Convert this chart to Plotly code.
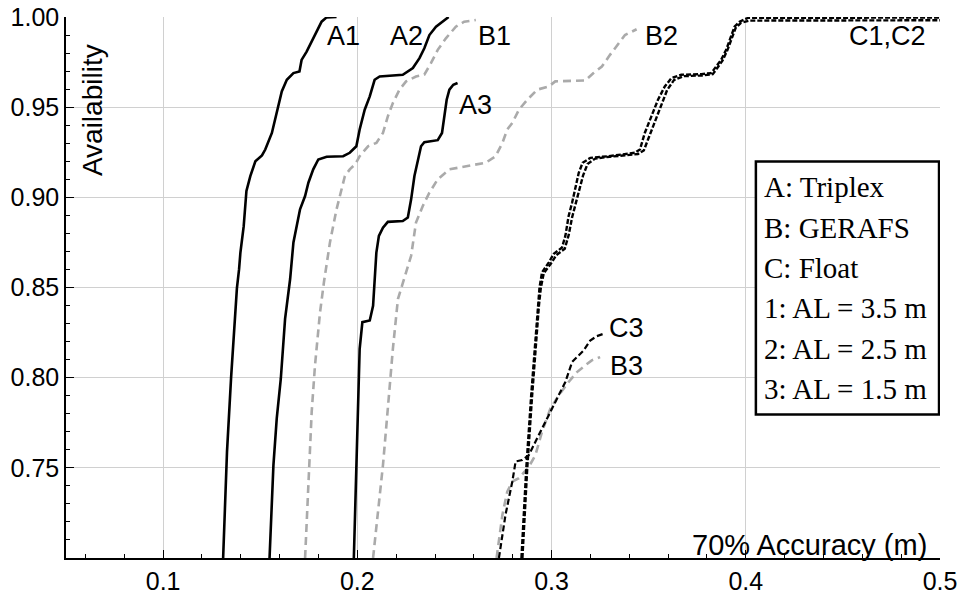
import plotly.graph_objects as go

# ---------------- data ----------------
A1_x = [0.1309, 0.1329, 0.1350, 0.1364, 0.1380, 0.1391, 0.1398, 0.1415, 0.1429, 0.1449, 0.1475,
        0.1509, 0.1526, 0.1560, 0.1577, 0.1594, 0.1611, 0.1637, 0.1671, 0.1702, 0.1713, 0.1739,
        0.1765, 0.1790, 0.1816, 0.1842, 0.1893]
A1_y = [0.700, 0.759, 0.800, 0.8215, 0.8496, 0.860, 0.8694, 0.884, 0.9035, 0.9118, 0.920,
        0.9232, 0.9265, 0.9357, 0.944, 0.9504, 0.9587, 0.9652, 0.9689, 0.9698, 0.9762, 0.9808,
        0.9864, 0.9919, 0.9974, 0.9998, 1.000]

A2_x = [0.1548, 0.1568, 0.1585, 0.1606, 0.1628, 0.1654, 0.1671, 0.1705, 0.1731, 0.1748, 0.1773,
        0.1799, 0.1842, 0.1927, 0.1961, 0.1995, 0.2012, 0.2038, 0.2064, 0.2089, 0.2115, 0.2234,
        0.2286, 0.2320, 0.2345, 0.2371, 0.2405, 0.2439, 0.2470]
A2_y = [0.700, 0.7515, 0.7773, 0.7994, 0.8326, 0.8547, 0.875, 0.8934, 0.9007, 0.9081, 0.9155,
        0.921, 0.9225, 0.9228, 0.9247, 0.9283, 0.9376, 0.9486, 0.956, 0.9652, 0.967, 0.968,
        0.9717, 0.9772, 0.9827, 0.990, 0.9946, 0.9974, 1.000]

A3_x = [0.1982, 0.1995, 0.2004, 0.2012, 0.2026, 0.2064, 0.2081, 0.2098, 0.2111, 0.2132, 0.2157,
        0.2234, 0.2260, 0.2277, 0.2294, 0.2311, 0.2328, 0.2345, 0.2414, 0.2436, 0.2448, 0.2460,
        0.2474, 0.2494, 0.2516]
A3_y = [0.700, 0.7515, 0.7976, 0.816, 0.8308, 0.8317, 0.8399, 0.8694, 0.8786, 0.8832, 0.8864,
        0.8869, 0.8888, 0.8989, 0.9118, 0.921, 0.9283, 0.9306, 0.9317, 0.9357, 0.9449, 0.9541,
        0.9597, 0.9624, 0.9634]

B1_x = [0.1731, 0.1748, 0.1765, 0.1782, 0.1808, 0.1828, 0.1859, 0.1893, 0.1918, 0.1936, 0.1961,
        0.1990, 0.2012, 0.2055, 0.2098, 0.2132, 0.2157, 0.2183, 0.2217, 0.2251, 0.2302, 0.2345,
        0.2379, 0.2414, 0.2456, 0.2507, 0.2550, 0.2610]
B1_y = [0.700, 0.7442, 0.781, 0.8068, 0.8363, 0.8529, 0.875, 0.8934, 0.9044, 0.9118, 0.9155,
        0.9185, 0.9228, 0.9283, 0.9302, 0.9357, 0.9449, 0.9523, 0.9597, 0.9643, 0.967, 0.968,
        0.9744, 0.9818, 0.9882, 0.9946, 0.9974, 0.9983]

B2_x = [0.2081, 0.2106, 0.2132, 0.2157, 0.2183, 0.2209, 0.2277, 0.2302, 0.2337, 0.2371, 0.2414,
        0.2474, 0.2559, 0.2661, 0.2712, 0.2747, 0.2772, 0.2798, 0.2832, 0.2875, 0.2926, 0.2986,
        0.3019, 0.3173, 0.3216, 0.3259, 0.3301, 0.3344, 0.3378, 0.3438]
B2_y = [0.700, 0.7258, 0.7515, 0.7829, 0.816, 0.8436, 0.8676, 0.886, 0.8952, 0.9026, 0.910,
        0.9155, 0.9173, 0.9192, 0.9228, 0.9302, 0.9376, 0.9413, 0.9486, 0.9541, 0.9597, 0.9615,
        0.9643, 0.9648, 0.9689, 0.9725, 0.979, 0.9855, 0.990, 0.9932]

B3_x = [0.2717, 0.2747, 0.2772, 0.2798, 0.2832, 0.2883, 0.2917, 0.2951, 0.2994, 0.3037, 0.3088,
        0.3131, 0.3173, 0.3207, 0.3250]
B3_y = [0.700, 0.724, 0.7368, 0.7424, 0.7442, 0.7506, 0.7571, 0.7700, 0.7829, 0.7902, 0.7976,
        0.8031, 0.8068, 0.8096, 0.8114]

C1_x = [0.2845, 0.2870, 0.2895, 0.2915, 0.2930, 0.2938, 0.2951, 0.2986, 0.3010, 0.3054, 0.3071,
        0.3088, 0.3106, 0.3122, 0.3140, 0.3160, 0.3200, 0.3293, 0.3361, 0.3429, 0.3455, 0.3480,
        0.3514, 0.3548, 0.3583, 0.3617, 0.3668, 0.3771, 0.3822, 0.3847, 0.3873, 0.3899, 0.3925,
        0.3942, 0.3968, 0.4011, 0.5000]
C1_y = [0.700, 0.750, 0.790, 0.820, 0.840, 0.850, 0.8584, 0.8639, 0.8685, 0.8722, 0.8786,
        0.8897, 0.8971, 0.9044, 0.9136, 0.9192, 0.9219, 0.9228, 0.9238, 0.9247, 0.9265, 0.9357,
        0.9449, 0.9541, 0.9615, 0.9661, 0.968, 0.9683, 0.9689, 0.9725, 0.9762, 0.9818, 0.9891,
        0.9946, 0.9974, 0.9995, 0.9997]

C2_x = [0.2850, 0.2875, 0.2900, 0.2920, 0.2935, 0.2945, 0.2960, 0.2995, 0.3025, 0.3068, 0.3088,
        0.3106, 0.3125, 0.3142, 0.3162, 0.3185, 0.3225, 0.3300, 0.3370, 0.3445, 0.3475, 0.3500,
        0.3530, 0.3562, 0.3595, 0.3630, 0.3680, 0.3775, 0.3830, 0.3855, 0.3880, 0.3905, 0.3930,
        0.3948, 0.3975, 0.4020, 0.5000]
C2_y = [0.700, 0.750, 0.790, 0.820, 0.840, 0.850, 0.8580, 0.8630, 0.8680, 0.8715, 0.8790,
        0.8890, 0.8965, 0.9040, 0.9120, 0.9185, 0.9215, 0.9225, 0.9232, 0.9240, 0.9260, 0.9330,
        0.9420, 0.9510, 0.9595, 0.9650, 0.9672, 0.9676, 0.9683, 0.9720, 0.9758, 0.9815, 0.9885,
        0.9940, 0.9968, 0.9980, 0.9982]

C3_x = [0.2729, 0.2763, 0.2798, 0.2815, 0.2849, 0.2883, 0.2917, 0.2951, 0.2994, 0.3028, 0.3071,
        0.3106, 0.3131, 0.3165, 0.3199, 0.3233, 0.3267]
C3_y = [0.700, 0.724, 0.7424, 0.7535, 0.7543, 0.7571, 0.7645, 0.7718, 0.781, 0.7884, 0.7976,
        0.8087, 0.8114, 0.8151, 0.8206, 0.823, 0.8243]

curve_labels = ["A1", "A2", "B1", "A3", "B2", "C1,C2", "C3", "B3"]
label_x = [0.1931, 0.2255, 0.2704, 0.2606, 0.3566, 0.4731, 0.3387, 0.3387]
label_y = [0.9893, 0.9893, 0.9893, 0.9514, 0.9893, 0.9893, 0.8276, 0.8063]

legend_lines = ["A: Triplex", "B: GERAFS", "C: Float",
                "1: AL = 3.5 m", "2: AL = 2.5 m", "3: AL = 1.5 m"]

x_ticks = [0.1, 0.2, 0.3, 0.4, 0.5]
y_ticks = [0.75, 0.80, 0.85, 0.90, 0.95, 1.00]

# ---------------- figure ----------------
fig = go.Figure()

solid = dict(color="black", width=2.6)
gray = dict(color="#aaaaaa", width=2.6, dash="8px,5px")
cdash = dict(color="black", width=2.4, dash="5px,2px")
c3dash = dict(color="black", width=2.2, dash="6px,3px")

series = [
    (A1_x, A1_y, solid), (A2_x, A2_y, solid), (A3_x, A3_y, solid),
    (B1_x, B1_y, gray), (B2_x, B2_y, gray), (B3_x, B3_y, gray),
    (C1_x, C1_y, cdash), (C2_x, C2_y, cdash), (C3_x, C3_y, c3dash),
]
for xs, ys, ln in series:
    fig.add_trace(go.Scatter(x=xs, y=ys, mode="lines", line=ln, cliponaxis=False,
                             showlegend=False, hoverinfo="skip"))

sans = "Liberation Sans, Arial, sans-serif"
serif = "Liberation Serif, Times New Roman, serif"

for t, lx, ly in zip(curve_labels, label_x, label_y):
    fig.add_annotation(x=lx, y=ly, text=t, showarrow=False,
                       font=dict(family=sans, size=27, color="black"))

# legend box
fig.add_shape(type="rect", xref="x", yref="y", x0=0.4052, x1=0.4995, y0=0.7796, y1=0.9199,
              line=dict(color="black", width=2.5), fillcolor="white", layer="above")
leg_y0 = 0.9055
leg_step = 0.02235
for i, t in enumerate(legend_lines):
    fig.add_annotation(x=0.4083, y=leg_y0 - i * leg_step, text=t, showarrow=False,
                       xanchor="left", yanchor="middle",
                       font=dict(family=serif, size=29, color="black"))

# axis titles inside plot
fig.add_annotation(x=0.0636, y=0.9486, text="Availability", textangle=-90,
                   showarrow=False, font=dict(family=sans, size=28, color="black"))
fig.add_annotation(x=0.4941, y=0.7072, text="70% Accuracy (m)", xanchor="right",
                   showarrow=False, font=dict(family=sans, size=29, color="black"))

fig.update_layout(
    width=962, height=594,
    margin=dict(l=66, r=22, t=17, b=36, autoexpand=False),
    plot_bgcolor="white", paper_bgcolor="white",
    font=dict(family=sans, size=25, color="black"),
    xaxis=dict(range=[0.05, 0.5], tickvals=x_ticks, ticktext=[f"{v:.1f}" for v in x_ticks],
               automargin=False,
               showgrid=True, gridcolor="#d0d0d0", gridwidth=1,
               showline=True, linecolor="black", linewidth=2,
               ticks="inside", ticklen=8, tickwidth=1.2, tickcolor="black",
               minor=dict(dtick=0.02, tick0=0, ticks="inside", ticklen=4,
                          tickcolor="black", showgrid=False),
               zeroline=False, tickfont=dict(size=25)),
    yaxis=dict(range=[0.70, 1.0], tickvals=y_ticks, ticktext=[f"{v:.2f}" for v in y_ticks],
               automargin=False,
               showgrid=True, gridcolor="#d0d0d0", gridwidth=1,
               showline=True, linecolor="black", linewidth=1.5,
               ticks="inside", ticklen=8, tickwidth=1.2, tickcolor="black",
               minor=dict(dtick=0.01, tick0=0, ticks="inside", ticklen=4,
                          tickcolor="black", showgrid=False),
               zeroline=False, tickfont=dict(size=25)),
)

# remove the default 8px page margin so the 962x594 figure fills the window exactly
fig.write_html("out.html", config={"displayModeBar": False},
               post_script="document.body.style.margin='0';")
